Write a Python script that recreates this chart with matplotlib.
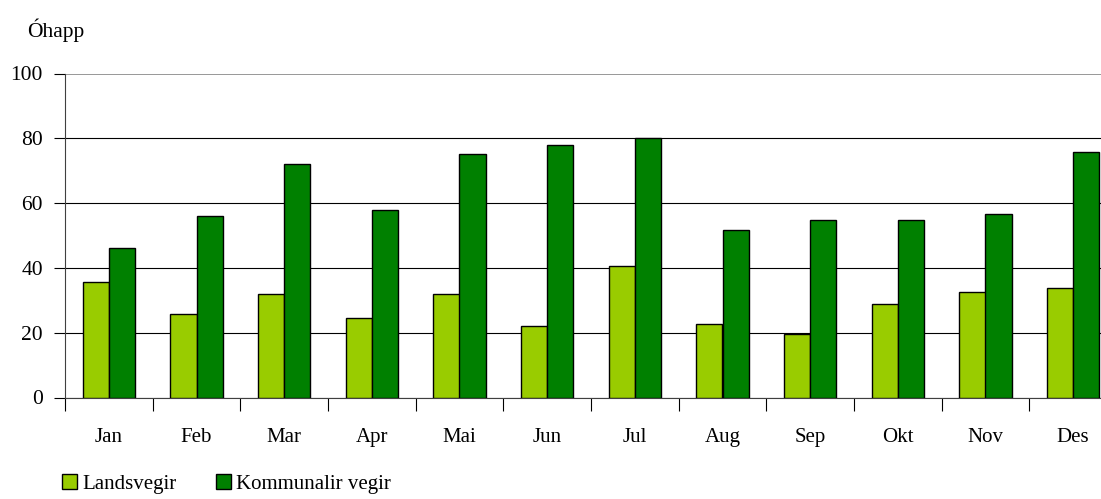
import matplotlib.pyplot as plt
import numpy as np

plt.rcParams['font.family'] = ['Liberation Serif', 'DejaVu Serif']

# data
months = ['Jan', 'Feb', 'Mar', 'Apr', 'Mai', 'Jun', 'Jul', 'Aug', 'Sep', 'Okt', 'Nov', 'Des']
landsvegir = [35.5, 25.7, 32.0, 24.5, 32.0, 22.0, 40.6, 22.8, 19.6, 28.8, 32.5, 33.8]
kommunalir = [46.1, 55.9, 72.2, 57.9, 75.3, 77.8, 80.2, 51.7, 54.9, 54.9, 56.5, 75.8]
yticks = [0, 20, 40, 60, 80, 100]

fig = plt.figure(figsize=(11.01, 4.99), dpi=100)
# plot area runs past the right edge, as in the original
ax = fig.add_axes([65 / 1101, 1 - 397.5 / 499, (1117 - 65) / 1101, (397.5 - 73.5) / 499])

x = np.arange(len(months))
w = 0.3
ax.bar(x - w / 2, landsvegir, w, color='#99CC00', edgecolor='black', linewidth=1.0,
       label='Landsvegir', zorder=3)
ax.bar(x + w / 2, kommunalir, w, color='#008000', edgecolor='black', linewidth=1.0,
       label='Kommunalir vegir', zorder=3)

ax.set_xlim(-0.5, len(months) - 0.5)
ax.set_ylim(0, 100)
ax.set_yticks(yticks)
ax.set_yticklabels([str(v) for v in yticks], fontsize=15.5)
ax.yaxis.grid(True, color='black', linewidth=0.8, zorder=0)
ax.get_ygridlines()[-1].set_color('#909090')
ax.get_ygridlines()[-1].set_linewidth(1.3)

# category boundary ticks, labels centred between them
ax.set_xticks(np.arange(len(months) + 1) - 0.5)
ax.set_xticklabels([])
ax.set_xticks(x, minor=True)
ax.set_xticklabels(months, minor=True, fontsize=15)
ax.tick_params(axis='x', which='minor', length=0, pad=22)
ax.tick_params(axis='x', which='major', length=9, width=0.8, direction='out')
ax.tick_params(axis='y', length=8, width=0.8, direction='out', pad=8)

for s in ['top', 'right']:
    ax.spines[s].set_visible(False)
ax.spines['left'].set_color('#404040')
ax.spines['bottom'].set_color('#404040')

fig.text(27 / 1101, 1 - 30 / 499, 'Óhapp', fontsize=15.5, va='center', ha='left')

fig.legend(loc='lower left', bbox_to_anchor=(54 / 1101, -0.006), ncol=2, frameon=False,
           fontsize=15, handlelength=0.7, handleheight=0.7, handletextpad=0.25,
           columnspacing=1.9, borderaxespad=0.0)

fig.savefig('out.png', dpi=100)
